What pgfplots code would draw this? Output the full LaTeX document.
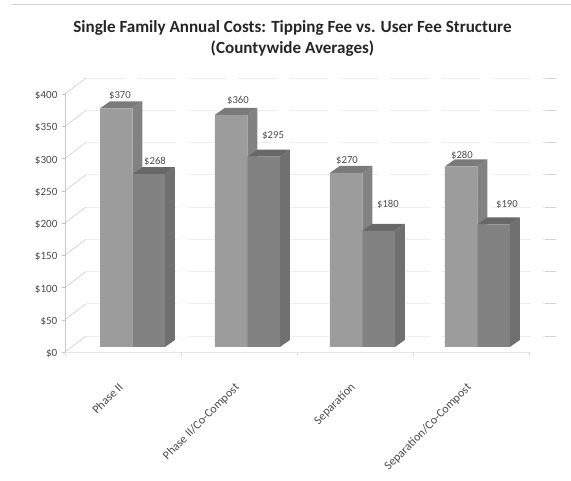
\documentclass[border=0pt]{standalone}
\usepackage{pgfplots}
\usepackage{pgfplotstable}
\usepackage{fontspec}
\setmainfont{Carlito}
\pgfplotsset{compat=1.18}

\definecolor{frontA}{HTML}{9C9C9C}
\definecolor{sideA}{HTML}{828282}
\definecolor{topA}{HTML}{7A7A7A}
\definecolor{frontB}{HTML}{828282}
\definecolor{sideB}{HTML}{707070}
\definecolor{topB}{HTML}{686868}
\definecolor{txt}{HTML}{4A4A4A}

% x = bar centre, y = dollars
\pgfplotstableread{
x     y
0.442 370
1.433 360
2.424 270
3.415 280
}\seriesA
\pgfplotstableread{
x     y
0.722 268
1.713 295
2.704 180
3.695 190
}\seriesB

% side and top face of one bar: right edge of the front, value, colours
\newcommand{\depth}[4]{%
  \pgfmathsetmacro{\xl}{#1-0.28}
  \pgfmathsetmacro{\xr}{#1}
  \pgfmathsetmacro{\xo}{#1+0.086}
  \pgfmathsetmacro{\lo}{7.75}
  \pgfmathsetmacro{\loo}{18.6}
  \pgfmathsetmacro{\hi}{#2+7.75}
  \pgfmathsetmacro{\hio}{#2+18.6}
  \addplot[fill=#3,draw=none,forget plot] coordinates {(\xr,\lo) (\xo,\loo) (\xo,\hio) (\xr,\hi)} -- cycle;
  \addplot[fill=#4,draw=none,forget plot] coordinates {(\xl,\hi) (\xr,\hi) (\xo,\hio) ({\xl+0.086},\hio)} -- cycle;
}

\begin{document}
\begin{tikzpicture}
\path[use as bounding box] (-48.75pt,-96.75pt) rectangle (379.5pt,264pt);
\draw[gray!35,line width=0.8pt] (-40pt,260.5pt) -- (379.5pt,260.5pt);
\begin{axis}[
	scale only axis,
	width=348pt,
	height=193.5pt,
	xmin=0, xmax=4,
	ymin=0, ymax=400,
	clip=false,
	axis lines=left,
	axis line style={-,gray!45,line width=0.5pt},
	x axis line style={gray!20},
	xtick={0.5,1.5,2.5,3.5},
	xticklabels={Phase II,Phase II/Co-Compost,Separation,Separation/Co-Compost},
	x tick label style={rotate=45,anchor=north east,font=\fontsize{9}{10}\selectfont,text=txt,inner sep=0pt,yshift=-11.5pt,xshift=-17pt},
	major x tick style={draw=none},
	minor xtick={0,1,2,3,4},
	minor x tick style={gray!30},
	ytick={0,50,100,150,200,250,300,350,400},
	yticklabels={\$0,\$50,\$100,\$150,\$200,\$250,\$300,\$350,\$400},
	y tick label style={font=\fontsize{8.3}{9}\selectfont,text=txt,yshift=-1.2pt},
	major y tick style={gray!50},
	tick align=outside,
	major tick length=2.2pt,
	bar width=0.28,
	bar shift=0pt,
]
% back wall grid and the diagonals to it
\pgfplotsinvokeforeach{0,50,...,400}{
	\draw[gray!45,line width=0.4pt] (axis cs:0,#1) -- (axis cs:0.181,#1+24.8);
	\draw[gray!13,line width=0.4pt,dash pattern=on 30pt off 8pt] (axis cs:0.181,#1+24.8) -- (axis cs:4.13,#1+24.8);
	\draw[gray!35,line width=0.6pt] (axis cs:4.14,#1+24.8) -- (axis cs:4.235,#1+24.8);
}

\depth{0.582}{370}{sideA}{topA}
\depth{1.573}{360}{sideA}{topA}
\depth{2.564}{270}{sideA}{topA}
\depth{3.555}{280}{sideA}{topA}
\addplot[ybar,fill=frontA,draw=none,yshift=3.75pt] table[x=x,y=y] {\seriesA};

\depth{0.862}{268}{sideB}{topB}
\depth{1.853}{295}{sideB}{topB}
\depth{2.844}{180}{sideB}{topB}
\depth{3.835}{190}{sideB}{topB}
\addplot[ybar,fill=frontB,draw=none,yshift=3.75pt] table[x=x,y=y] {\seriesB};

\begin{scope}[every node/.style={font=\fontsize{8}{9}\selectfont,text=txt,inner sep=0pt}]
\node at (axis cs:0.474,398) {\$370};
\node at (axis cs:0.776,296) {\$268};
\node at (axis cs:1.491,390) {\$360};
\node at (axis cs:1.794,336) {\$295};
\node at (axis cs:2.431,296) {\$270};
\node at (axis cs:2.784,229) {\$180};
\node at (axis cs:3.422,304) {\$280};
\node at (axis cs:3.810,229) {\$190};
\end{scope}
\end{axis}
\node[font=\bfseries\fontsize{12.8}{15.75}\selectfont,text=black!85,align=center,anchor=center] at (170.6pt,235.3pt)
	{Single Family Annual Costs: Tipping Fee vs. User Fee Structure\\(Countywide Averages)};
\end{tikzpicture}
\end{document}
